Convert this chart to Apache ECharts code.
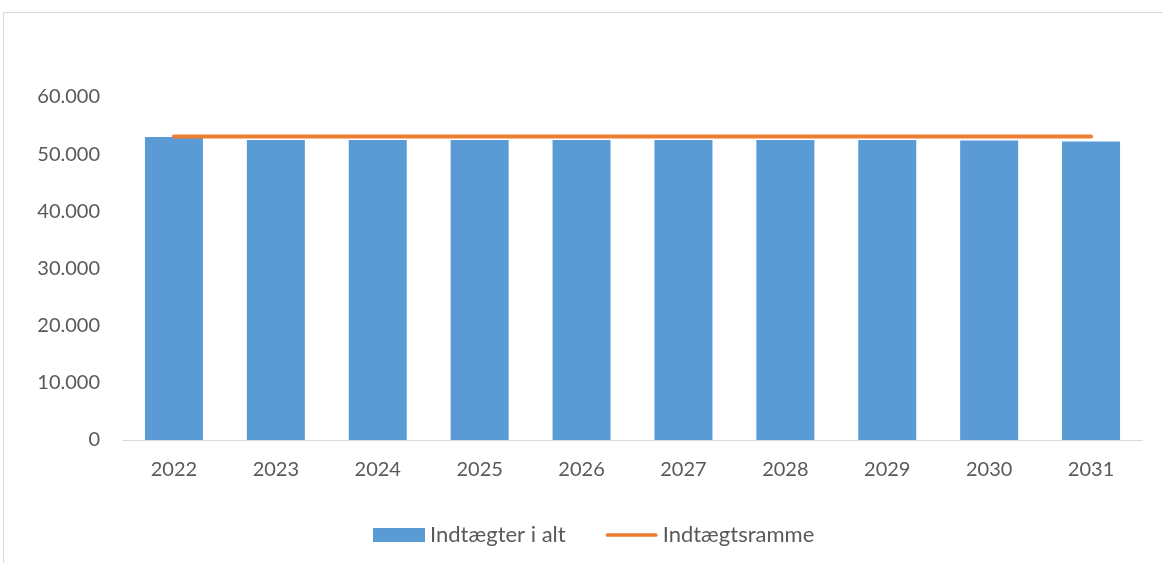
<!DOCTYPE html>
<html>
<head>
<meta charset="utf-8">
<script src="https://cdn.jsdelivr.net/npm/echarts@6/dist/echarts.min.js"></script>
<style>
  html, body { margin: 0; padding: 0; background: #fff; }
  #chart { width: 1163px; height: 563px; }
</style>
</head>
<body>
<div id="chart"></div>
<script>
const years = ["2022", "2023", "2024", "2025", "2026", "2027", "2028", "2029", "2030", "2031"];
const indtaegter = [53000, 52500, 52500, 52500, 52500, 52500, 52500, 52500, 52400, 52200];
const ramme = [53100, 53100, 53100, 53100, 53100, 53100, 53100, 53100, 53100, 53100];

const fmt = v => String(v).replace(/\B(?=(\d{3})+(?!\d))/g, ".");
const font = "Lato, 'Open Sans', sans-serif";

let chart = echarts.init(document.getElementById("chart"));
chart.setOption({
  animation: false,
  textStyle: { fontFamily: font },
  graphic: [
    {
      type: "rect",
      shape: { x: 3.5, y: 12.5, width: 1200, height: 600 },
      style: { fill: "none", stroke: "#d9d9d9", lineWidth: 1 },
      silent: true
    }
  ],
  grid: { left: 123, right: 21, top: 97, bottom: 123 },
  legend: {
    top: 519,
    left: 368,
    itemWidth: 52,
    itemHeight: 14,
    itemGap: 40,
    textStyle: { fontSize: 22, color: "#595959", fontFamily: font },
    data: [
      { name: "Indtægter i alt", icon: "rect" },
      { name: "Indtægtsramme", icon: "path://M2,0 H54 A2,2 0 0 1 54,4 H2 A2,2 0 0 1 2,0 Z" }
    ]
  },
  xAxis: {
    type: "category",
    data: years,
    axisLine: { lineStyle: { color: "#d9d9d9" } },
    axisTick: { show: false },
    axisLabel: { fontSize: 20, color: "#595959", margin: 20 }
  },
  yAxis: {
    type: "value",
    min: 0,
    max: 60000,
    interval: 10000,
    splitLine: { show: false },
    axisLabel: { fontSize: 20, color: "#595959", margin: 23, formatter: fmt }
  },
  series: [
    {
      name: "Indtægter i alt",
      type: "bar",
      data: indtaegter,
      barWidth: 58,
      itemStyle: { color: "#5b9bd5" }
    },
    {
      name: "Indtægtsramme",
      type: "line",
      data: ramme,
      symbol: "none",
      lineStyle: { color: "#ed7d31", width: 4, cap: "round" },
      itemStyle: { color: "#ed7d31" }
    }
  ]
});
</script>
</body>
</html>
